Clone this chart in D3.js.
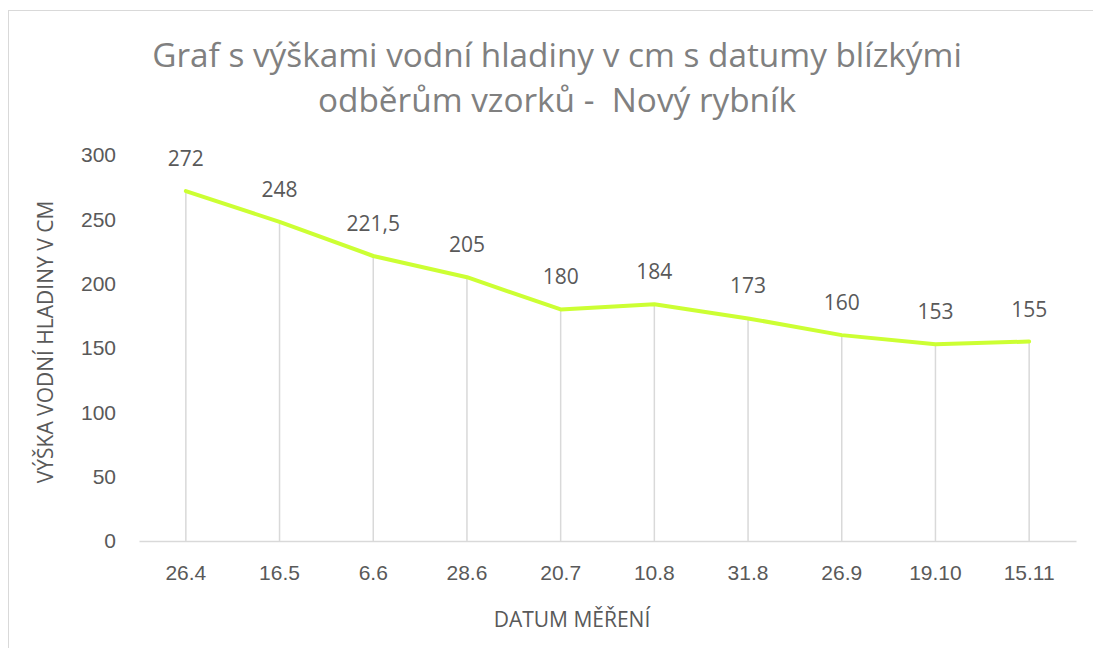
<!DOCTYPE html>
<html><head><meta charset="utf-8">
<script src="https://cdn.jsdelivr.net/npm/d3@7"></script>
<style>
html,body{margin:0;padding:0;background:#fff;}
svg{display:block;font-family:"Open Sans","Noto Sans",sans-serif;}
text{white-space:pre;}
</style></head>
<body>
<svg id="c" width="1093" height="648"></svg>
<script>
const categories = ["26.4","16.5","6.6","28.6","20.7","10.8","31.8","26.9","19.10","15.11"];
const values = [272,248,221.5,205,180,184,173,160,153,155];
const valueLabels = ["272","248","221,5","205","180","184","173","160","153","155"];
const yTicks = [0,50,100,150,200,250,300];
const titleLines = ["Graf s výškami vodní hladiny v cm s datumy blízkými","odběrům vzorků -  Nový rybník"];
const yTitle = "VÝŠKA VODNÍ HLADINY V CM";
const xTitle = "DATUM MĚŘENÍ";

const svg = d3.select("#c");
const textCol = "#595959";
const gridCol = "#d9d9d9";
const fs = 21;

// border
svg.append("rect").attr("x",8.5).attr("y",10.5).attr("width",1200).attr("height",700)
  .attr("fill","none").attr("stroke",gridCol).attr("stroke-width",1);

const x = d3.scaleBand().domain(categories).range([139,1076]);
const y = d3.scaleLinear().domain([0,300]).range([541,155]);

// title
const tt = svg.append("g");
titleLines.forEach((t,i)=>{
  tt.append("text").attr("x",557).attr("y",67+i*45).attr("text-anchor","middle")
    .attr("font-size",29).attr("fill","#808080").text(t);
});
const n0 = tt.select("text").node();
const w0 = n0.getComputedTextLength();
const k = 810/w0;
tt.selectAll("text").attr("font-size",29*k);

// drop lines
svg.append("g").selectAll("line").data(values).join("line")
  .attr("x1",(d,i)=>x(categories[i])+x.bandwidth()/2)
  .attr("x2",(d,i)=>x(categories[i])+x.bandwidth()/2)
  .attr("y1",d=>y(d)).attr("y2",y(0))
  .attr("stroke",gridCol).attr("stroke-width",1.5);

// x axis
const xa = svg.append("g").attr("transform",`translate(0,${y(0)})`)
  .call(d3.axisBottom(x).tickSize(0));
xa.select(".domain").attr("stroke",gridCol).attr("stroke-width",1.5);
xa.selectAll("text").attr("y",39).attr("dy",0).attr("font-size",fs).attr("fill",textCol).attr("font-family","inherit");

// y axis
const ya = svg.append("g").attr("transform",`translate(116,0)`)
  .call(d3.axisLeft(y).tickValues(yTicks).tickSize(0).tickPadding(0));
ya.select(".domain").remove();
ya.selectAll("text").attr("font-size",fs).attr("fill",textCol).attr("font-family","inherit");

// line
const line = d3.line().x((d,i)=>x(categories[i])+x.bandwidth()/2).y(d=>y(d));
svg.append("path").datum(values).attr("d",line).attr("fill","none")
  .attr("stroke","#ccff33").attr("stroke-width",4).attr("stroke-linejoin","round").attr("stroke-linecap","round");

// value labels
svg.append("g").selectAll("text").data(values).join("text")
  .attr("x",(d,i)=>x(categories[i])+x.bandwidth()/2)
  .attr("y",d=>y(d)-25).attr("text-anchor","middle")
  .attr("font-size",fs).attr("fill",textCol).text((d,i)=>valueLabels[i]);

// axis titles
svg.append("text").attr("transform","translate(53,342) rotate(-90)").attr("text-anchor","middle")
  .attr("font-size",fs).attr("fill",textCol).text(yTitle);
svg.append("text").attr("x",572).attr("y",627).attr("text-anchor","middle")
  .attr("font-size",fs).attr("fill",textCol).text(xTitle);
</script>
</body></html>
